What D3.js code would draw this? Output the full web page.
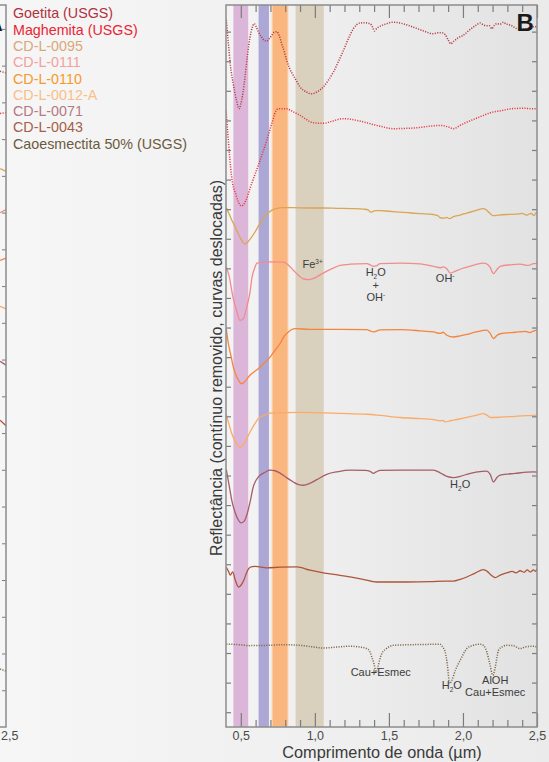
<!DOCTYPE html>
<html>
<head>
<meta charset="utf-8">
<script src="https://cdn.jsdelivr.net/npm/d3@7"></script>
<style>
  html, body { margin: 0; padding: 0; background: #f3f3f3; }
  svg { display: block; font-family: "Liberation Sans", Arial, Helvetica, sans-serif; }
</style>
</head>
<body>
<svg id="chart" width="549" height="762"></svg>
<script>
// ---------- data ----------
// wavelength (µm), continuum-removed reflectance with vertical offsets (tick units)
const wavelengthDomain = [0.4, 2.5];
const majorTicks = [0.5, 1.0, 1.5, 2.0, 2.5];
const minorTicks = [0.6, 0.7, 0.8, 0.9, 1.1, 1.2, 1.3, 1.4, 1.6, 1.7, 1.8, 1.9, 2.1, 2.2, 2.3, 2.4];
const offsetTicks = d3.range(0, 24);
const panelAOffsetTicks = d3.range(1, 20);

const seriesNames = ["Goetita (USGS)", "Maghemita (USGS)", "CD-L-0095", "CD-L-0111", "CD-L-0110",
  "CD-L-0012-A", "CD-L-0071", "CD-L-0043", "Caoesmectita 50% (USGS)"];
const seriesColors = ["#b73a42", "#e8363f", "#d9a654", "#f28b8b", "#f5843c",
  "#fbab66", "#a55e69", "#ad553a", "#7d6646"];
const legendColors = ["#b1303d", "#ea2434", "#d9a878", "#f4a0a0", "#f8982c",
  "#f9bf88", "#b47a83", "#a65f46", "#6b5a40"];
const seriesDotted = [true, true, false, false, false, false, false, false, true];

// absorption-feature bands (µm)
const bandRanges = [[0.45, 0.55], [0.62, 0.69], [0.71, 0.82], [0.87, 1.06]];
const bandColors = ["#dcb6d9", "#ada7d6", "#f9b67f", "#d9d0be"];

const goetita = [
  [0.402,23.4],[0.416,22.6],[0.43,21.85],[0.449,21.24],[0.47,20.7],[0.488,20.39],[0.50,20.55],
  [0.515,20.95],[0.528,21.46],[0.545,22.2],[0.562,22.81],[0.578,23.15],[0.591,23.27],[0.605,23.15],
  [0.62,22.98],[0.641,22.81],[0.66,22.7],[0.675,22.68],[0.69,22.75],[0.709,22.87],[0.725,22.98],
  [0.743,23.0],[0.76,22.85],[0.776,22.59],[0.795,22.3],[0.81,22.03],[0.83,21.75],[0.855,21.52],
  [0.88,21.3],[0.9,21.13],[0.94,20.97],[0.979,20.9],[1.02,20.98],[1.057,21.13],[1.09,21.35],
  [1.125,21.63],[1.16,22.0],[1.193,22.36],[1.23,22.8],[1.26,23.1],[1.305,23.29],[1.34,23.3],
  [1.373,23.27],[1.39,23.15],[1.402,23.02],[1.42,23.12],[1.44,23.18],[1.48,23.26],[1.53,23.32],
  [1.60,23.26],[1.666,23.15],[1.73,23.03],[1.80,22.93],[1.83,22.96],[1.857,22.96],[1.88,22.9],
  [1.90,22.72],[1.918,22.59],[1.94,22.68],[1.97,22.8],[2.0,22.87],[2.05,23.08],[2.09,23.22],
  [2.116,23.29],[2.14,23.22],[2.161,23.2],[2.18,23.2],[2.195,23.1],[2.21,23.2],[2.229,23.27],
  [2.25,23.25],[2.274,23.32],[2.29,23.26],[2.307,23.24],[2.33,23.2],[2.364,23.1],[2.40,23.08],
  [2.44,23.12],[2.47,23.16],[2.488,23.17],[2.5,23.1]
];
const maghemita = [
  [0.401,20.3],[0.408,19.85],[0.416,19.32],[0.437,18.14],[0.468,17.47],[0.505,17.11],[0.535,17.3],
  [0.562,17.7],[0.586,18.04],[0.63,18.65],[0.675,19.32],[0.709,19.89],[0.735,20.3],[0.753,20.39],
  [0.81,20.39],[0.85,20.3],[0.9,20.17],[0.99,19.92],[1.057,19.9],[1.12,19.98],[1.193,20.06],
  [1.283,20.0],[1.395,19.86],[1.46,19.78],[1.53,19.72],[1.61,19.73],[1.688,19.75],[1.77,19.8],
  [1.846,19.83],[1.9,19.78],[1.936,19.72],[1.98,19.83],[2.026,19.94],[2.08,20.05],[2.139,20.17],
  [2.2,20.28],[2.26,20.33],[2.319,20.39],[2.40,20.41],[2.488,20.39],[2.5,20.4]
];
const cdl0095 = [
  [0.402,17.05],[0.42,16.85],[0.44,16.62],[0.461,16.42],[0.48,16.2],[0.5,16.0],[0.515,15.88],
  [0.53,15.82],[0.545,15.88],[0.569,16.03],[0.595,16.22],[0.621,16.45],[0.645,16.64],[0.664,16.77],
  [0.69,16.9],[0.711,16.97],[0.74,17.02],[0.778,17.05],[0.85,17.05],[0.95,17.04],[1.05,17.04],
  [1.15,17.03],[1.25,17.02],[1.33,17.0],[1.36,16.98],[1.375,16.9],[1.39,16.92],[1.41,16.95],
  [1.44,16.95],[1.5,16.93],[1.574,16.9],[1.65,16.87],[1.72,16.85],[1.799,16.82],[1.83,16.78],
  [1.846,16.71],[1.87,16.7],[1.89,16.72],[1.91,16.68],[1.936,16.75],[1.98,16.8],[2.026,16.87],
  [2.08,16.94],[2.139,17.02],[2.164,16.95],[2.19,16.82],[2.206,16.78],[2.24,16.8],[2.3,16.82],
  [2.36,16.83],[2.40,16.86],[2.43,16.8],[2.46,16.86],[2.48,16.78],[2.49,16.85],[2.5,16.9]
];
const cdl0111 = [
  [0.402,15.05],[0.42,14.76],[0.447,14.03],[0.471,13.58],[0.495,13.24],[0.518,13.31],[0.54,13.69],
  [0.562,14.19],[0.576,14.71],[0.593,15.0],[0.609,15.18],[0.643,15.2],[0.697,15.22],[0.79,15.21],
  [0.824,15.1],[0.856,14.93],[0.891,14.76],[0.924,14.64],[0.959,14.62],[1.001,14.68],[1.049,14.82],
  [1.116,14.99],[1.17,15.1],[1.238,15.14],[1.351,15.16],[1.373,15.12],[1.395,15.07],[1.414,15.08],
  [1.441,15.16],[1.576,15.18],[1.711,15.15],[1.801,15.07],[1.846,15.02],[1.866,15.05],[1.891,14.99],
  [1.914,14.84],[1.947,14.9],[1.981,14.97],[2.026,15.04],[2.082,15.12],[2.139,15.18],[2.164,15.14],
  [2.184,15.03],[2.206,14.82],[2.231,14.97],[2.251,15.07],[2.319,15.12],[2.386,15.14],[2.44,15.1],
  [2.476,15.16],[2.5,15.17]
];
const cdl0110 = [
  [0.402,12.95],[0.416,12.46],[0.434,12.03],[0.449,11.67],[0.474,11.32],[0.506,11.1],[0.528,11.18],
  [0.562,11.39],[0.589,11.5],[0.618,11.61],[0.657,11.79],[0.697,12.0],[0.731,12.23],[0.765,12.46],
  [0.792,12.7],[0.821,12.85],[0.866,12.96],[0.968,12.94],[1.17,12.94],[1.351,12.93],[1.373,12.89],
  [1.395,12.85],[1.42,12.89],[1.441,12.92],[1.576,12.93],[1.711,12.89],[1.801,12.85],[1.846,12.8],
  [1.866,12.84],[1.891,12.74],[1.936,12.68],[1.981,12.72],[2.026,12.77],[2.088,12.85],[2.161,12.91],
  [2.184,12.8],[2.206,12.63],[2.231,12.74],[2.251,12.79],[2.352,12.84],[2.42,12.87],[2.45,12.83],
  [2.476,12.88],[2.5,12.91]
];
const cdl0012a = [
  [0.402,10.05],[0.42,9.73],[0.439,9.42],[0.461,9.16],[0.495,8.96],[0.518,9.05],[0.54,9.25],
  [0.569,9.53],[0.596,9.76],[0.618,9.92],[0.657,10.03],[0.697,10.11],[0.9,10.13],[1.17,10.1],
  [1.351,10.07],[1.441,10.03],[1.576,9.96],[1.711,9.92],[1.801,9.89],[1.846,9.85],[1.866,9.86],
  [1.88,9.81],[1.914,9.85],[1.968,9.9],[2.026,9.96],[2.088,10.03],[2.139,10.09],[2.164,10.03],
  [2.184,9.96],[2.251,9.97],[2.352,10.0],[2.43,10.02],[2.476,10.03],[2.5,10.05]
];
const cdl0071 = [
  [0.402,8.2],[0.42,7.7],[0.439,7.16],[0.461,6.76],[0.481,6.52],[0.501,6.4],[0.522,6.45],
  [0.542,6.69],[0.562,7.09],[0.584,7.61],[0.603,7.84],[0.63,8.01],[0.664,8.11],[0.697,8.18],
  [0.731,8.16],[0.765,8.08],[0.805,7.94],[0.855,7.78],[0.886,7.7],[0.922,7.67],[0.968,7.74],
  [1.013,7.86],[1.08,8.04],[1.157,8.13],[1.238,8.18],[1.339,8.17],[1.373,8.14],[1.395,8.07],
  [1.414,8.12],[1.441,8.17],[1.576,8.18],[1.801,8.18],[1.846,8.09],[1.891,7.97],[1.936,7.93],
  [1.981,7.97],[2.026,8.04],[2.088,8.11],[2.161,8.15],[2.184,8.04],[2.206,7.78],[2.231,7.94],
  [2.251,8.01],[2.352,8.07],[2.476,8.12],[2.5,8.11]
];
const cdl0043 = [
  [0.402,4.9],[0.417,4.76],[0.429,4.63],[0.445,4.74],[0.463,4.46],[0.486,4.23],[0.501,4.29],
  [0.52,4.46],[0.535,4.66],[0.553,4.85],[0.576,4.92],[0.598,4.93],[0.675,4.88],[0.765,4.9],
  [0.878,4.91],[0.968,4.8],[1.057,4.71],[1.143,4.65],[1.238,4.57],[1.326,4.49],[1.418,4.4],
  [1.508,4.4],[1.621,4.4],[1.778,4.41],[1.88,4.43],[1.936,4.43],[1.981,4.49],[2.026,4.57],
  [2.082,4.7],[2.139,4.82],[2.164,4.76],[2.191,4.63],[2.218,4.55],[2.251,4.63],[2.297,4.71],
  [2.332,4.76],[2.359,4.71],[2.386,4.78],[2.413,4.73],[2.434,4.81],[2.454,4.74],[2.476,4.81],
  [2.491,4.76],[2.5,4.85]
];
const caoesmectita = [
  [0.402,2.3],[0.495,2.28],[0.562,2.25],[0.675,2.26],[0.799,2.28],[0.9,2.26],[0.981,2.21],
  [1.057,2.17],[1.143,2.2],[1.238,2.23],[1.305,2.2],[1.351,2.15],[1.37,2.06],[1.384,1.87],
  [1.4,1.62],[1.414,1.36],[1.427,1.55],[1.437,1.76],[1.452,1.98],[1.481,2.14],[1.53,2.26],
  [1.643,2.28],[1.745,2.29],[1.846,2.3],[1.862,2.21],[1.88,2.04],[1.895,1.59],[1.91,0.97],
  [1.925,1.08],[1.949,1.42],[1.982,1.76],[2.026,2.15],[2.062,2.25],[2.116,2.3],[2.143,2.23],
  [2.161,2.04],[2.18,1.66],[2.202,1.25],[2.218,1.52],[2.24,2.09],[2.265,2.21],[2.297,2.26],
  [2.339,2.25],[2.386,2.15],[2.426,2.21],[2.476,2.23],[2.5,2.21]
];
const spectra = [goetita, maghemita, cdl0095, cdl0111, cdl0110, cdl0012a, cdl0071, cdl0043, caoesmectita];

// neighbouring panel A: last stretch of each spectrum, [value at 2.46 µm, value at 2.5 µm]
const panelATailWavelengths = [2.46, 2.5];
const panelATails = [[17.85, 17.8], [16.7, 16.72], [15.2, 15.12], [14.0, 14.08], [12.7, 12.76],
  [11.45, 11.38], [9.95, 9.85], [8.35, 8.2], [1.58, 1.52]];

// feature labels: parts (s = superscript, b = subscript), wavelength, offset level
const annotations = [
  { parts: [["Fe"], ["3+", "s"]], w: 0.985, u: 15.0 },
  { parts: [["H"], ["2", "b"], ["O"]], w: 1.411, u: 14.73 },
  { parts: [["+"]], w: 1.411, u: 14.31 },
  { parts: [["OH"], ["-", "s"]], w: 1.411, u: 13.9 },
  { parts: [["OH"], ["-", "s"]], w: 1.88, u: 14.54 },
  { parts: [["H"], ["2", "b"], ["O"]], w: 1.981, u: 7.58 },
  { parts: [["Cau+Esmec"]], w: 1.445, u: 1.22 },
  { parts: [["H"], ["2", "b"], ["O"]], w: 1.925, u: 0.8 },
  { parts: [["AlOH"]], w: 2.218, u: 0.97 },
  { parts: [["Cau+Esmec"]], w: 2.218, u: 0.55 }
];

// ---------- layout ----------
const svg = d3.select("#chart");
const W = 549, H = 762;
const plot = { left: 226, right: 537, top: 5, bottom: 727 };

const x = d3.scaleLinear().domain(wavelengthDomain).range([plot.left, plot.right]);
const y = d3.scaleLinear().domain([-0.5, 23.9]).range([plot.bottom, plot.top]);
// panel A shares the wavelength span, ending at its right frame
const xA = d3.scaleLinear().domain(wavelengthDomain).range([6 - (plot.right - plot.left), 6]);
const yA = d3.scaleLinear().domain([0, 19.65]).range([plot.bottom, plot.top]);

const fmtTick = d => d3.format(".1f")(d).replace(".", ",");

const defs = svg.append("defs");
const pageGrad = defs.append("linearGradient").attr("id", "pageBg").attr("x1", 0).attr("x2", 1).attr("y1", 0).attr("y2", 0);
pageGrad.append("stop").attr("offset", "0%").attr("stop-color", "#f6f6f6");
pageGrad.append("stop").attr("offset", "100%").attr("stop-color", "#ebebeb");
const plotGrad = defs.append("linearGradient").attr("id", "plotBg").attr("x1", 0).attr("x2", 1).attr("y1", 0).attr("y2", 0);
plotGrad.append("stop").attr("offset", "0%").attr("stop-color", "#f4f4f4");
plotGrad.append("stop").attr("offset", "100%").attr("stop-color", "#e2e2e2");
defs.append("clipPath").attr("id", "plotClip").append("rect")
  .attr("x", plot.left).attr("y", plot.top)
  .attr("width", plot.right - plot.left).attr("height", plot.bottom - plot.top);

svg.append("rect").attr("width", W).attr("height", H).attr("fill", "url(#pageBg)");

// ---------- panel A remnant ----------
const gA = svg.append("g");
gA.append("text").attr("x", xA(2.5) - 20.5).attr("y", 30.7)
  .attr("font-size", 24).attr("font-weight", "bold").attr("fill", "#1a1a1a").text("A");
const tailLine = d3.line().x((d, i) => xA(panelATailWavelengths[i])).y(d => yA(d));
gA.selectAll("path.tail").data(panelATails).join("path")
  .attr("class", "tail")
  .attr("d", d => tailLine(d))
  .attr("fill", "none")
  .attr("stroke", (d, i) => seriesColors[i])
  .attr("stroke-width", (d, i) => seriesDotted[i] ? 1.5 : 1.3)
  .attr("stroke-dasharray", (d, i) => seriesDotted[i] ? "1.1,1.4" : null);
gA.append("g").attr("transform", `translate(${xA(2.5)},0)`)
  .call(d3.axisRight(yA).tickValues(panelAOffsetTicks).tickSizeInner(-4).tickSizeOuter(0).tickFormat(""));
gA.append("g").attr("transform", `translate(0,${plot.bottom})`)
  .call(d3.axisBottom(xA).tickValues([2.5]).tickSizeInner(0).tickSizeOuter(0).tickPadding(4).tickFormat(fmtTick));
gA.selectAll(".domain").remove();
gA.selectAll(".tick line").attr("stroke", "#7c7c7c");
gA.selectAll(".tick text").attr("fill", "#4a4a4a").attr("font-size", 12.5)
  .attr("text-anchor", "start").attr("x", -5.5)
  .attr("font-family", "Liberation Sans, Arial, sans-serif");
gA.append("path")
  .attr("d", `M-2,${plot.top}H${xA(2.5)}V${plot.bottom}H-2`)
  .attr("fill", "none").attr("stroke", "#8c8c8c").attr("stroke-width", 1.5);

// ---------- legend ----------
svg.append("g").selectAll("text").data(seriesNames).join("text")
  .attr("x", 13)
  .attr("y", (d, i) => 18.3 + i * 16.3)
  .attr("font-size", 14.3)
  .attr("fill", (d, i) => legendColors[i])
  .text(d => d);

// ---------- panel B ----------
const gB = svg.append("g");
gB.append("rect")
  .attr("x", plot.left).attr("y", plot.top)
  .attr("width", plot.right - plot.left).attr("height", plot.bottom - plot.top)
  .attr("fill", "url(#plotBg)");

const clipped = gB.append("g").attr("clip-path", "url(#plotClip)");

clipped.selectAll("rect.band").data(bandRanges).join("rect")
  .attr("class", "band")
  .attr("x", d => x(d[0]))
  .attr("width", d => x(d[1]) - x(d[0]))
  .attr("y", plot.top).attr("height", plot.bottom - plot.top)
  .attr("fill", (d, i) => bandColors[i])
  .attr("stroke", (d, i) => i === 2 ? "#fde3cb" : "none")
  .attr("stroke-width", 1.2);

const line = d3.line().x(d => x(d[0])).y(d => y(d[1])).curve(d3.curveMonotoneX);
clipped.selectAll("path.spectrum").data(spectra).join("path")
  .attr("class", "spectrum")
  .attr("d", line)
  .attr("fill", "none")
  .attr("stroke", (d, i) => seriesColors[i])
  .attr("stroke-width", (d, i) => seriesDotted[i] ? 1.5 : 1.3)
  .attr("stroke-dasharray", (d, i) => seriesDotted[i] ? "1.1,1.4" : null)
  .attr("stroke-linejoin", "round");

// feature labels
const ann = gB.append("g").attr("font-size", 11).attr("fill", "#3c3c3c");
annotations.forEach(a => {
  const t = ann.append("text")
    .attr("x", x(a.w)).attr("y", y(a.u)).attr("dy", "0.36em")
    .attr("text-anchor", "middle");
  let shift = 0;
  a.parts.forEach(([s, kind]) => {
    const target = kind === "s" ? -4 : kind === "b" ? 3 : 0;
    t.append("tspan")
      .attr("dy", target - shift)
      .attr("font-size", kind ? 6.5 : 11)
      .text(s);
    shift = target;
  });
});

// axes: ticks drawn inward on all four sides
function styleAxis(g) {
  g.selectAll(".domain").remove();
  g.selectAll(".tick line").attr("stroke", "#7c7c7c").attr("stroke-width", 1.2);
  g.selectAll(".tick text").attr("fill", "#4a4a4a").attr("font-size", 12.5)
    .attr("font-family", "Liberation Sans, Arial, sans-serif");
}
gB.append("g").attr("transform", `translate(0,${plot.bottom})`)
  .call(d3.axisBottom(x).tickValues(minorTicks).tickSizeInner(-7).tickSizeOuter(0).tickFormat(""))
  .call(styleAxis);
gB.append("g").attr("transform", `translate(0,${plot.bottom})`)
  .call(d3.axisBottom(x).tickValues(majorTicks).tickSizeInner(-14).tickSizeOuter(0).tickPadding(4).tickFormat(fmtTick))
  .call(styleAxis);
gB.append("g").attr("transform", `translate(0,${plot.top})`)
  .call(d3.axisTop(x).tickValues(minorTicks).tickSizeInner(-7).tickSizeOuter(0).tickFormat(""))
  .call(styleAxis);
gB.append("g").attr("transform", `translate(0,${plot.top})`)
  .call(d3.axisTop(x).tickValues(majorTicks).tickSizeInner(-13).tickSizeOuter(0).tickFormat(""))
  .call(styleAxis);
gB.append("g").attr("transform", `translate(${plot.left},0)`)
  .call(d3.axisLeft(y).tickValues(offsetTicks).tickSizeInner(-5).tickSizeOuter(0).tickFormat(""))
  .call(styleAxis);
gB.append("g").attr("transform", `translate(${plot.right},0)`)
  .call(d3.axisRight(y).tickValues(offsetTicks).tickSizeInner(-5).tickSizeOuter(0).tickFormat(""))
  .call(styleAxis);

gB.append("rect")
  .attr("x", plot.left).attr("y", plot.top)
  .attr("width", plot.right - plot.left).attr("height", plot.bottom - plot.top)
  .attr("fill", "none").attr("stroke", "#8c8c8c").attr("stroke-width", 1.5);

gB.append("text").attr("x", plot.right - 20.5).attr("y", 30.7)
  .attr("font-size", 24).attr("font-weight", "bold").attr("fill", "#1a1a1a").text("B");

// axis titles
svg.append("text")
  .attr("x", (plot.left + plot.right) / 2 + 0.5).attr("y", 757.5)
  .attr("text-anchor", "middle").attr("font-size", 16.3).attr("fill", "#3a3a3a")
  .text("Comprimento de onda (µm)");
svg.append("text")
  .attr("transform", `translate(222,368) rotate(-90)`)
  .attr("text-anchor", "middle").attr("font-size", 16).attr("fill", "#3a3a3a")
  .text("Reflectância (contínuo removido, curvas deslocadas)");
</script>
</body>
</html>
